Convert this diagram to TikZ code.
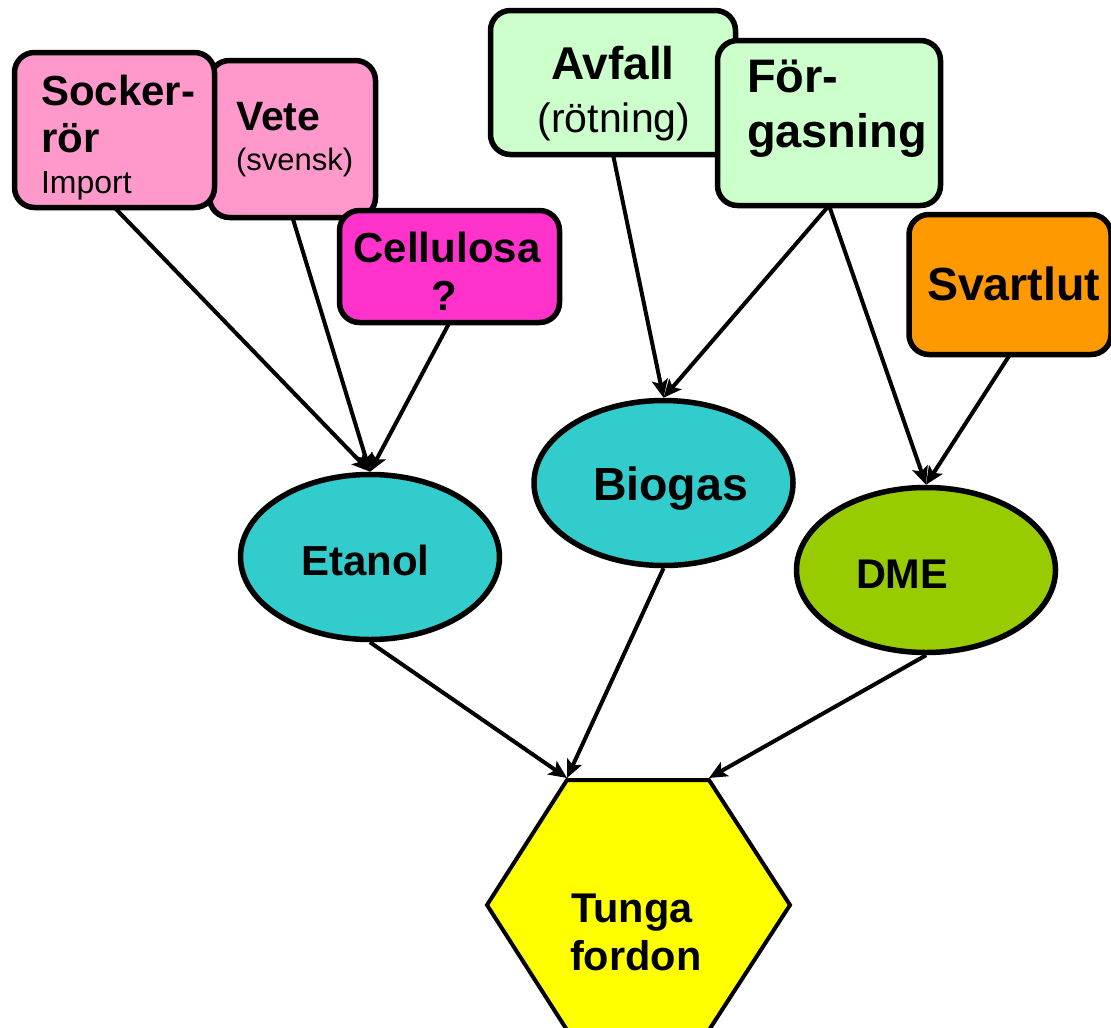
\documentclass[tikz,border=0pt]{standalone}
\usepackage{fontspec}
\setmainfont{Liberation Sans}
\usetikzlibrary{shapes.geometric,arrows.meta}
\definecolor{pinkA}{HTML}{FF99CC}
\definecolor{magA}{HTML}{FF33CC}
\definecolor{greenA}{HTML}{CCFFCC}
\definecolor{orangeA}{HTML}{FF9900}
\definecolor{tealA}{HTML}{33CCCC}
\definecolor{limeA}{HTML}{99CC00}
\definecolor{yellowA}{HTML}{FFFF00}
\newcommand\myfs[1]{\fontsize{#1}{#1}\selectfont}
\tikzset{
  box/.style={draw, rectangle, line width=5.5pt, rounded corners=20pt, inner sep=0pt, outer sep=0pt},
  ell/.style={draw, ellipse, line width=5.5pt, minimum width=259pt, minimum height=165pt, inner sep=0pt},
  txt/.style={inner sep=0pt, outer sep=0pt, anchor=base west},
  ctxt/.style={inner sep=0pt, outer sep=0pt, anchor=base},
  bft/.style={font=\bfseries\myfs{#1}},
  rft/.style={font=\myfs{#1}},
  arr/.style={line width=4pt, -{Stealth[length=18pt,width=16pt,inset=4pt]}}
}
\begin{document}
\begin{tikzpicture}[x=1pt,y=-1pt]
\useasboundingbox (0,0) rectangle (1111,1028);
\clip (0,0) rectangle (1111,1028);
% source boxes
\node[box, fill=pinkA, minimum width=166pt, minimum height=157pt] (vete) at (292.5,139) {};
\node[box, fill=pinkA, minimum width=200pt, minimum height=155pt] (sock) at (114.5,130) {};
\node[box, fill=magA, minimum width=220pt, minimum height=112pt] (cell) at (449.5,266.5) {};
\node[box, fill=greenA, minimum width=245pt, minimum height=144pt] (avf) at (613,82.5) {};
\node[box, fill=greenA, minimum width=223pt, minimum height=165pt] (forg) at (829,123) {};
\node[box, fill=orangeA, minimum width=202pt, minimum height=140pt] (svart) at (1010,284.5) {};
% box texts
\node[txt, bft=42] (t1) at (41,105) {Socker-};
\node[txt, bft=42] (t2) at (41,152) {rör};
\node[txt, rft=32] (t3) at (41,193) {Import};
\node[txt, bft=41] (t4) at (236,130) {Vete};
\node[txt, rft=31] (t5) at (236,170) {(svensk)};
\node[ctxt, bft=42] (t6) at (447,262) {Cellulosa};
\node[ctxt, bft=42] (t7) at (444,310) {?};
\node[ctxt, bft=46] (t8) at (613,79) {Avfall};
\node[ctxt, rft=41] (t9) at (614,132) {(rötning)};
\node[txt, bft=47] (t10) at (747,92) {För-};
\node[txt, bft=47] (t11) at (747,147) {gasning};
\node[txt, bft=46.5] (t12) at (927,300) {Svartlut};
% fuels
\node[ell, fill=tealA] (eta) at (370,557) {};
\node[ell, fill=tealA] (bio) at (663.5,483) {};
\node[ell, fill=limeA] (dme) at (926,570) {};
\node[txt, bft=42] (t13) at (301,575) {Etanol};
\node[txt, bft=46.5] (t14) at (593,500.5) {Biogas};
\node[txt, bft=41.5] (t15) at (856,588) {DME};
% vehicle hexagon
\draw[line width=4pt, fill=yellowA, line join=miter] (567,780) -- (709,780) -- (790,905) -- (709,1030) -- (567,1030) -- (487,905) -- cycle;
\coordinate (hexL) at (567,778);
\coordinate (hexR) at (709,778);
\node[txt, bft=41.5] (t16) at (571,922) {Tunga};
\node[txt, bft=41.5] (t17) at (570,970) {fordon};
% connectors
\draw[arr] (sock.south) -- (eta.north);
\draw[arr] (vete.south) -- (eta.north);
\draw[arr] (cell.south) -- (eta.north);
\draw[arr] (avf.south) -- (bio.north);
\draw[arr] (forg.south) -- (bio.north);
\draw[arr] (forg.south) -- (dme.north);
\draw[arr] (svart.south) -- (dme.north);
\draw[arr] (eta.south) -- (hexL);
\draw[arr] (bio.south) -- (hexL);
\draw[arr] (dme.south) -- (hexR);
\end{tikzpicture}
\end{document}
